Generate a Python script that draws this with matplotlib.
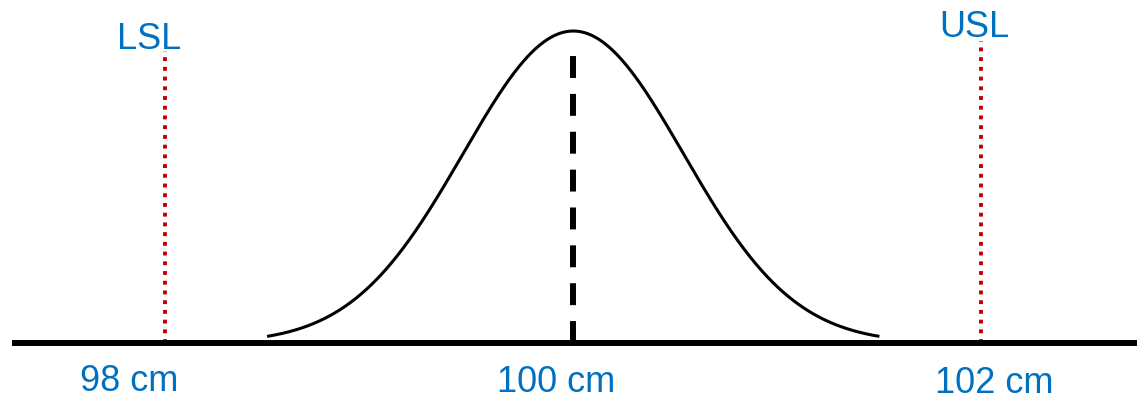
import numpy as np
import matplotlib
matplotlib.use("Agg")
import matplotlib.pyplot as plt

# Process specification (cm)
lsl = 98.0
usl = 102.0
target = 100.0
sigma = 0.54
curve_span = (98.5, 101.5)

limit_names = ["LSL", "USL"]
tick_values = [98, 100, 102]
tick_labels = ["98 cm", "100 cm", "102 cm"]

blue = "#0070C0"
red = "#C00000"

fig = plt.figure(figsize=(11.37, 4.02), dpi=100)
ax = fig.add_axes([0, 0, 1, 1])
ax.set_xlim(97.1916, 102.762)
ax.set_ylim(-0.186, 1.1026)
ax.axis("off")

# Normal curve, peak scaled to 1
x = np.linspace(curve_span[0], curve_span[1], 600)
y = np.exp(-0.5 * ((x - target) / sigma) ** 2)
ax.plot(x, y, color="black", lw=2.2, solid_capstyle="butt", zorder=3)

# Baseline
ax.plot([97.25, 102.8], [0, 0], color="black", lw=4.3, solid_capstyle="butt", zorder=4)

# Centre line
ax.plot([target, target], [0, 0.926], color="black", lw=4.3,
        linestyle=(0, (3.67, 2.67)), dash_capstyle="butt", zorder=2)

# Specification limits
for xv, top in [(lsl, 0.936), (usl, 0.968)]:
    ax.plot([xv, xv], [0, top], color=red, lw=2.8,
            linestyle=(0, (1, 1.5)), dash_capstyle="butt", zorder=2)

font = ["Liberation Sans", "DejaVu Sans"]
ax.text(97.922, 0.946, limit_names[0], color=blue, fontsize=26, family=font,
        ha="center", va="baseline")
ax.text(101.964, 0.984, limit_names[1], color=blue, fontsize=26, family=font,
        ha="center", va="baseline")

label_pos = [(97.824, -0.152), (99.916, -0.155), (102.062, -0.156)]
for (tx, ty), lab in zip(label_pos, tick_labels):
    ax.text(tx, ty, lab, color=blue, fontsize=26, family=font,
            ha="center", va="baseline")

fig.savefig("out.png", dpi=100, facecolor="white")
